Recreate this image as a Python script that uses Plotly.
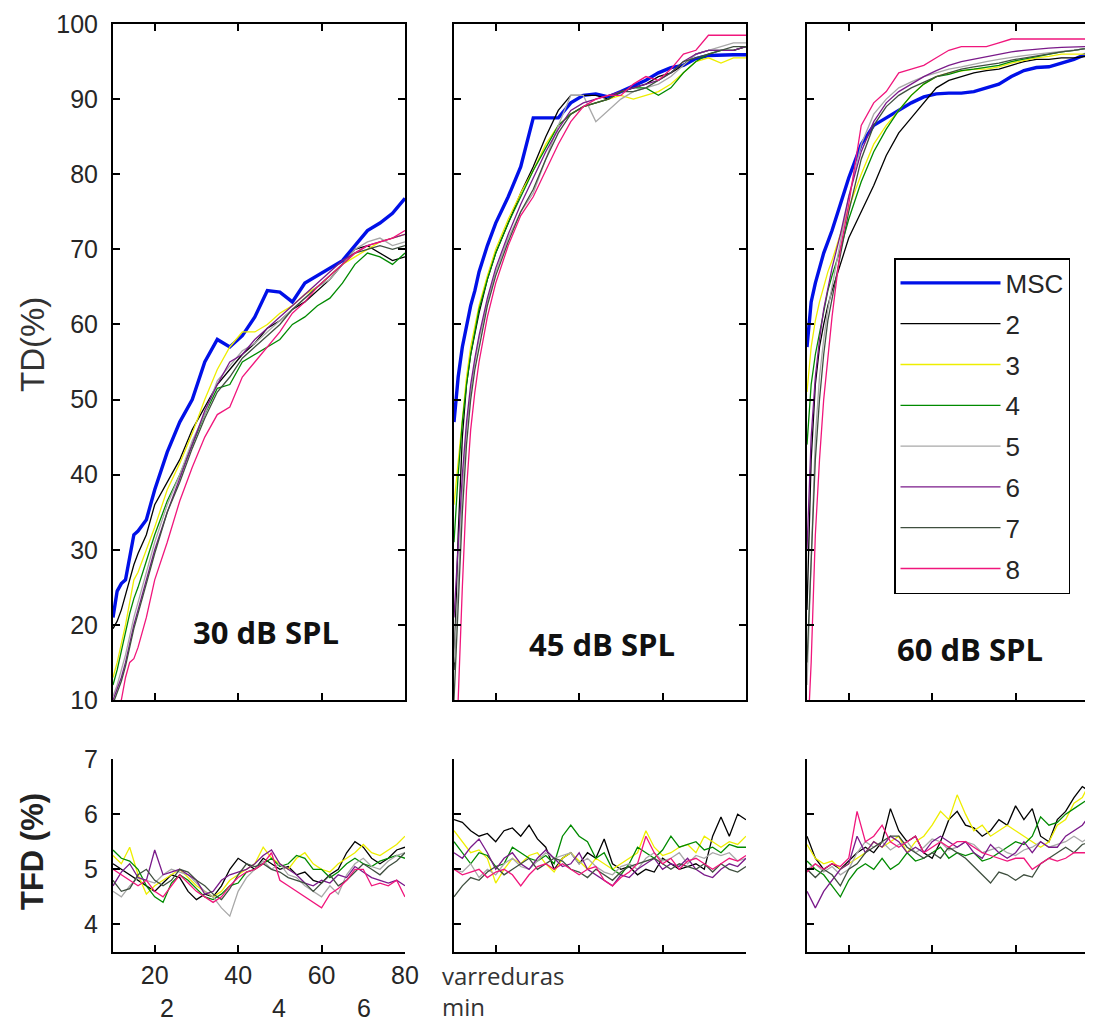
import plotly.graph_objects as go

# ---------------- data ----------------
series_names = ["MSC", "2", "3", "4", "5", "6", "7", "8"]

sweeps_td = [10, 11, 12, 13, 14, 15, 16, 18, 20, 23, 26, 29, 32, 35, 38, 41, 44, 47, 50,
             53, 56, 59, 62, 65, 68, 71, 74, 77, 80]
sweeps_tfd = [10, 12, 14, 16, 18, 20, 22, 24, 26, 28, 30, 32, 34, 36, 38, 40, 42, 44,
              46, 48, 50, 52, 54, 56, 58, 60, 62, 64, 66, 68, 70, 72, 74, 76, 78, 80]

# TD(%) 30 dB SPL
td30_msc = [21, 24.5, 25.5, 26, 29, 32, 32.5, 34, 38, 43, 47, 50, 55, 58, 57, 58.5, 61, 64.5, 64.3, 63, 65.5, 66.5, 67.5, 68.5, 70.5, 72.5, 73.5, 74.8, 76.8]
td30_2 = [19.5, 20.5, 22, 24, 26, 28, 29.5, 32, 36, 39, 42, 46, 49, 52, 54, 56, 57.5, 59.5, 60.5, 62, 63, 64.5, 66, 68, 70, 70.5, 69.5, 68.5, 69]
td30_3 = [13, 15, 17.5, 20, 23, 26, 27, 30, 33, 38, 41.5, 45.5, 50, 54, 57, 59, 59, 60, 61.5, 62.5, 64, 65, 66.5, 68, 69, 70, 71, 71.5, 72]
td30_4 = [12, 14, 16.5, 19, 21.5, 23.5, 25, 28.5, 32, 36.5, 40, 44, 48, 51.5, 52, 55, 56, 57, 58, 60, 61, 62.5, 63.5, 65.5, 68, 69.5, 69, 68, 69.5]
td30_5 = [10.5, 12, 14, 16, 18.5, 21, 23, 27, 31, 36, 40, 44.5, 48, 52.5, 54.5, 56.5, 57.5, 59, 60.5, 62, 63.5, 65, 66, 68, 70, 71, 71.5, 70.5, 71]
td30_6 = [10, 11.5, 13, 15, 17.5, 20, 22, 26, 30, 35, 39.5, 44, 48.5, 52, 55, 56, 58, 59.5, 61, 62.5, 64, 65.5, 67, 68.5, 69.5, 70.5, 71, 71.5, 72]
td30_7 = [9.5, 11, 12.5, 14.5, 17, 19.5, 21.5, 25.5, 29.5, 35, 39, 43.5, 47.5, 51, 53, 55.5, 57, 58.5, 60, 62, 63.5, 65, 66.5, 68, 69.5, 70, 70.5, 70, 70.5]
td30_8 = [7, 8, 10, 13, 15, 15.5, 17, 21, 26, 31, 36.5, 41, 45, 48, 49, 53, 55, 57, 59, 61.5, 63, 65, 66.5, 68, 69.5, 70.5, 71, 71.5, 72.5]

# TD(%) 45 dB SPL
td45_msc = [47, 53, 57, 60, 62.5, 64.5, 67, 70.5, 73.5, 77, 81, 87.5, 87.5, 87.5, 89.5, 90.5, 90.7, 90.3, 91, 91.8, 92.5, 93.5, 94.2, 94.5, 95.4, 95.8, 95.9, 95.9, 95.9]
td45_2 = [14, 32, 45, 52, 56, 59, 61.5, 66, 69.5, 73.5, 77.5, 81, 85, 88.5, 90.5, 90.5, 90.5, 90, 91, 91.5, 92, 93, 93.5, 94.5, 96, 96.5, 96.5, 96.5, 97]
td45_3 = [36, 42, 48, 53, 57, 60, 62.5, 66.5, 70, 74, 77.5, 80.5, 84, 86.5, 88, 89, 89.5, 90, 90.5, 90, 90.5, 91, 92, 93.5, 95, 95.5, 94.8, 95.5, 95.5]
td45_4 = [31, 40, 47, 52, 56, 59, 62, 66, 69.5, 73.5, 77, 80.5, 83.5, 86.5, 88, 89, 89.5, 90, 91, 91.5, 91.5, 90.5, 91.5, 93.5, 95, 96, 96.5, 96.5, 97]
td45_5 = [15, 25, 38, 46, 51, 55, 58, 63, 67, 71.5, 75, 77.5, 82, 86.5, 90.5, 90.5, 87, 88.5, 90, 91, 91.5, 92, 93, 94.5, 96, 96.5, 97, 97.5, 97.5]
td45_6 = [21, 30, 40, 47, 52, 55.5, 58.5, 63.5, 67.5, 72, 76, 79.5, 83, 86, 88.5, 89.5, 90, 90.5, 91, 91.5, 92, 92.5, 93.5, 95, 96, 96.5, 96.5, 96.5, 97]
td45_7 = [10, 22, 35, 44, 50, 54, 57, 62.5, 66.5, 71, 75, 78, 82, 85.5, 88, 89, 89.5, 90, 91, 91, 91.5, 92.5, 93.5, 95, 95.5, 96, 96.5, 97, 97]
td45_8 = [5, 10, 25, 38, 46, 51, 55, 61, 65.5, 70.5, 74.5, 77, 80.5, 84, 87, 89, 90, 90.5, 90.5, 92, 93, 92.5, 94, 96, 96.5, 98.5, 98.5, 98.5, 98.5]

# TD(%) 60 dB SPL
td60_msc = [57, 63, 65.5, 67.5, 69.5, 71, 72.5, 76, 79.5, 84, 86.5, 87.5, 88.5, 89.5, 90.3, 90.7, 90.8, 90.8, 91, 91.5, 92, 93, 93.8, 94.2, 94.3, 94.8, 95.3, 96, 96.5]
td60_2 = [22, 42, 52, 57, 60, 62.5, 64.5, 68, 71.5, 75, 78.5, 82.5, 85.5, 87.5, 89.5, 91.5, 92.5, 93, 93.5, 93.8, 94, 94.5, 95, 95.3, 95.3, 95.5, 95.5, 95.7, 96]
td60_3 = [51, 57, 60.5, 63, 65, 67, 68.5, 72, 75.5, 80, 84, 86.5, 88.5, 90.5, 92, 93, 93.5, 93.8, 94, 94, 94.3, 94.8, 95.2, 95.5, 95.7, 96, 96, 96, 96]
td60_4 = [44, 52, 56, 59, 62, 64.5, 66.5, 70, 74, 79, 83, 86, 88.5, 90.5, 92, 93, 93.3, 93.8, 94, 94.2, 94.5, 95, 95.3, 95.7, 96, 96.3, 96.5, 96.8, 97]
td60_5 = [12, 30, 45, 53, 58, 62, 65, 71, 77, 84, 88, 90, 91.5, 92.3, 93, 93.5, 94, 94.3, 94.7, 95, 95.3, 95.6, 95.8, 96, 96.2, 96.4, 96.5, 96.7, 96.8]
td60_6 = [30, 45, 53, 58, 62, 65, 67.5, 72, 77, 83, 87, 89.5, 91, 92, 93, 93.8, 94.5, 95, 95.3, 95.6, 96, 96.3, 96.5, 96.6, 96.8, 96.9, 97, 97, 97]
td60_7 = [15, 28, 42, 50, 56, 60.5, 63.5, 69.5, 75, 82, 86.5, 89, 90.5, 91.5, 92.3, 93, 93.5, 94, 94.3, 94.5, 94.8, 95.2, 95.5, 95.8, 96, 96.3, 96.5, 96.7, 97]
td60_8 = [3, 15, 32, 42, 50, 56, 61, 70, 76, 86.5, 89.5, 91, 93.5, 94, 94.5, 95.5, 96.5, 97, 97, 97, 97.5, 98, 98, 98, 98, 98, 98, 98, 98]

# TFD(%) 30 dB SPL
tfd30_2 = [5.1, 5.0, 4.9, 4.8, 4.7, 4.6, 4.75, 4.9, 4.85, 4.6, 4.45, 4.55, 4.5, 4.7, 5.0, 5.2, 5.1, 5.0, 5.2, 5.1, 5.0, 5.05, 4.9, 4.95, 4.8, 4.75, 4.9, 5.0, 5.3, 5.5, 5.4, 5.2, 5.1, 5.2, 5.35, 5.4]
tfd30_3 = [5.25, 5.1, 5.4, 4.9, 4.55, 4.7, 4.8, 4.9, 5.0, 4.85, 4.7, 4.6, 4.5, 4.6, 4.8, 4.9, 5.0, 5.1, 5.4, 5.2, 5.1, 5.0, 5.2, 5.3, 5.1, 5.0, 4.95, 5.1, 5.2, 5.3, 5.45, 5.3, 5.25, 5.35, 5.45, 5.6]
tfd30_4 = [5.35, 5.2, 5.15, 5.0, 4.7, 4.5, 4.4, 4.75, 4.9, 4.8, 4.65, 4.5, 4.45, 4.55, 4.7, 4.75, 4.95, 5.0, 5.1, 5.2, 5.05, 5.1, 5.25, 5.2, 5.0, 5.0, 4.85, 4.95, 5.1, 5.2, 5.1, 5.05, 5.15, 5.2, 5.25, 5.2]
tfd30_5 = [4.6, 4.5, 4.7, 4.85, 4.8, 4.75, 4.9, 5.0, 4.95, 4.9, 4.75, 4.6, 4.5, 4.3, 4.15, 4.6, 4.85, 5.0, 5.15, 5.0, 5.1, 4.9, 4.85, 4.7, 4.6, 4.5, 4.7, 4.55, 4.9, 5.1, 5.2, 5.05, 5.0, 5.15, 5.25, 5.3]
tfd30_6 = [4.7, 4.95, 5.1, 4.85, 4.8, 5.35, 4.9, 4.95, 5.0, 4.9, 4.8, 4.55, 4.6, 4.8, 4.9, 4.95, 5.0, 5.1, 5.25, 5.35, 5.1, 5.0, 4.9, 4.75, 4.7, 4.8, 4.75, 4.9, 4.85, 5.05, 4.95, 4.85, 4.8, 4.75, 4.8, 4.7]
tfd30_7 = [4.8, 4.6, 4.65, 4.9, 5.0, 4.8, 4.7, 4.8, 5.0, 4.95, 4.8, 4.7, 4.55, 4.45, 4.65, 4.9, 5.1, 5.05, 5.1, 5.0, 4.95, 4.85, 4.8, 4.75, 4.6, 4.75, 4.9, 4.7, 4.8, 4.95, 5.1, 5.0, 4.9, 5.05, 5.15, 5.3]
tfd30_8 = [5.0, 4.9, 4.8, 4.7, 4.8, 4.6, 4.5, 4.7, 4.9, 4.75, 4.6, 4.5, 4.4, 4.5, 4.7, 4.85, 4.95, 5.0, 5.1, 5.3, 4.8, 4.7, 4.6, 4.5, 4.4, 4.3, 4.55, 4.65, 4.8, 5.0, 5.0, 4.7, 4.75, 4.7, 4.8, 4.5]

# TFD(%) 45 dB SPL
tfd45_2 = [5.9, 5.85, 5.7, 5.6, 5.65, 5.5, 5.7, 5.75, 5.6, 5.8, 5.55, 5.4, 5.0, 5.2, 5.3, 5.1, 5.3, 5.2, 5.55, 5.1, 5.0, 5.05, 4.9, 5.0, 4.95, 5.2, 5.1, 5.0, 5.05, 5.1, 5.0, 5.6, 5.95, 5.6, 6.0, 5.9]
tfd45_3 = [5.7, 5.5, 5.3, 5.35, 5.2, 4.75, 5.0, 5.2, 5.1, 5.25, 5.3, 5.1, 4.95, 5.2, 5.3, 5.15, 5.0, 5.2, 5.1, 5.0, 5.1, 5.2, 5.3, 5.7, 5.4, 5.25, 5.3, 5.4, 5.45, 5.3, 5.6, 5.5, 5.4, 5.5, 5.45, 5.6]
tfd45_4 = [5.5, 5.3, 5.1, 5.3, 5.25, 5.05, 5.1, 5.4, 5.3, 5.2, 5.15, 5.25, 5.1, 5.6, 5.8, 5.6, 5.5, 5.2, 5.3, 5.0, 4.9, 5.1, 5.4, 5.3, 5.2, 5.35, 5.6, 5.4, 5.45, 5.5, 5.35, 5.4, 5.3, 5.45, 5.4, 5.4]
tfd45_5 = [5.0, 4.95, 5.1, 4.85, 5.0, 4.9, 5.1, 5.2, 5.05, 5.0, 5.15, 5.3, 5.2, 5.25, 5.3, 5.1, 5.2, 5.05, 4.95, 4.9, 5.05, 5.1, 5.0, 5.2, 5.3, 5.15, 5.2, 5.3, 5.1, 5.25, 5.2, 5.3, 5.25, 5.3, 5.15, 5.2]
tfd45_6 = [5.3, 5.2, 5.4, 5.55, 5.3, 5.0, 5.2, 5.3, 5.1, 5.0, 5.2, 5.35, 5.2, 5.05, 5.1, 5.3, 5.0, 4.9, 4.8, 4.7, 4.9, 4.85, 5.0, 5.1, 5.2, 5.0, 5.1, 5.05, 5.2, 5.0, 4.9, 4.85, 5.0, 5.1, 5.05, 5.2]
tfd45_7 = [4.5, 4.7, 4.85, 4.8, 4.95, 5.05, 4.9, 5.0, 5.1, 5.2, 5.0, 5.1, 5.2, 5.15, 5.0, 4.95, 4.85, 5.0, 4.9, 4.8, 4.95, 5.05, 5.1, 5.15, 5.2, 5.1, 5.0, 5.1, 5.05, 5.0, 5.1, 4.95, 5.1, 5.0, 4.95, 5.05]
tfd45_8 = [5.0, 4.9, 4.95, 5.0, 4.85, 4.95, 5.0, 4.9, 4.7, 4.9, 5.05, 5.1, 5.0, 5.1, 5.0, 4.9, 5.0, 5.05, 4.8, 4.7, 4.85, 4.95, 5.1, 5.6, 5.3, 5.1, 5.2, 5.0, 5.15, 5.2, 5.1, 5.0, 5.1, 5.2, 5.15, 5.25]

# TFD(%) 60 dB SPL
tfd60_2 = [5.6, 5.2, 5.0, 5.1, 5.0, 5.15, 5.3, 5.4, 5.3, 5.5, 6.1, 5.7, 5.5, 5.6, 5.3, 5.2, 5.5, 5.9, 6.05, 5.8, 5.75, 5.6, 5.7, 5.9, 5.8, 6.15, 5.9, 6.1, 5.6, 5.5, 5.9, 6.05, 6.3, 6.5, 6.4, 6.5]
tfd60_3 = [5.45, 5.2, 5.1, 5.15, 5.0, 5.1, 5.2, 5.3, 5.5, 5.4, 5.5, 5.6, 5.3, 5.5, 5.6, 5.8, 6.05, 5.9, 6.35, 6.0, 5.7, 5.8, 5.6, 5.7, 5.8, 5.7, 5.6, 5.5, 5.4, 5.5, 5.8, 5.9, 6.2, 6.3, 6.6, 6.7]
tfd60_4 = [5.15, 5.0, 4.9, 4.7, 4.5, 4.8, 5.0, 5.1, 5.0, 5.2, 5.0, 5.1, 5.3, 5.15, 5.2, 5.3, 5.4, 5.2, 5.3, 5.25, 5.3, 5.15, 5.2, 5.3, 5.4, 5.5, 5.45, 5.6, 5.95, 5.8, 5.85, 6.0, 6.1, 6.2, 6.3, 6.4]
tfd60_5 = [5.0, 5.1, 4.95, 5.05, 4.9, 5.0, 5.3, 5.5, 5.4, 5.5, 5.35, 5.45, 5.5, 5.3, 5.4, 5.55, 5.5, 5.35, 5.4, 5.5, 5.45, 5.3, 5.35, 5.4, 5.3, 5.25, 5.35, 5.4, 5.5, 5.4, 5.45, 5.5, 5.6, 5.5, 5.6, 5.55]
tfd60_6 = [4.6, 4.3, 4.6, 4.8, 5.0, 5.1, 5.6, 5.3, 5.5, 5.4, 5.6, 5.5, 5.3, 5.4, 5.3, 5.5, 5.6, 5.5, 5.4, 5.5, 5.3, 5.2, 5.45, 5.3, 5.2, 5.3, 5.5, 5.3, 5.5, 5.4, 5.4, 5.6, 5.7, 5.8, 6.0, 6.1]
tfd60_7 = [5.0, 4.85, 5.0, 4.9, 4.7, 5.0, 5.1, 5.3, 5.4, 5.5, 5.6, 5.6, 5.4, 5.3, 5.2, 5.3, 5.2, 5.4, 5.3, 5.2, 5.05, 4.9, 4.75, 4.95, 4.9, 4.8, 4.9, 4.86, 5.1, 5.2, 5.3, 5.4, 5.3, 5.45, 5.5, 5.6]
tfd60_8 = [4.95, 5.1, 5.0, 5.1, 5.05, 5.2, 6.05, 5.5, 5.6, 5.8, 5.5, 5.4, 5.5, 5.6, 5.3, 5.4, 5.5, 5.4, 5.5, 5.5, 5.4, 5.3, 5.25, 5.2, 5.15, 5.2, 5.2, 5.0, 5.1, 5.2, 5.15, 5.2, 5.3, 5.3, 5.3, 5.35]

panel_labels = ["30 dB SPL", "45 dB SPL", "60 dB SPL"]
td_ticks = [10, 20, 30, 40, 50, 60, 70, 80, 90, 100]
tfd_ticks = [4, 5, 6, 7]
sweep_ticks = [20, 40, 60, 80]
minute_labels = ["2", "4", "6"]
minute_pos = [22.9, 49.8, 70.2]

# ---------------- style / layout ----------------
# the page places the figure 8px from the top-left corner of the 1093x1024 window
OFF = 8
FW, FH = 1093 - OFF, 1024 - OFF
def fx(p):
    return (p - OFF) / FW
def fy(p):
    return 1 - (p - OFF) / FH

colors = ["#0010E8", "#000000", "#EEEE00", "#008A00", "#A8A8A8", "#7A1A8A", "#3F4F3F", "#F0167C"]
widths = [3.4, 1.3, 1.3, 1.3, 1.3, 1.3, 1.3, 1.3]

td_sets = [
    [td30_msc, td30_2, td30_3, td30_4, td30_5, td30_6, td30_7, td30_8],
    [td45_msc, td45_2, td45_3, td45_4, td45_5, td45_6, td45_7, td45_8],
    [td60_msc, td60_2, td60_3, td60_4, td60_5, td60_6, td60_7, td60_8],
]
tfd_sets = [
    [None, tfd30_2, tfd30_3, tfd30_4, tfd30_5, tfd30_6, tfd30_7, tfd30_8],
    [None, tfd45_2, tfd45_3, tfd45_4, tfd45_5, tfd45_6, tfd45_7, tfd45_8],
    [None, tfd60_2, tfd60_3, tfd60_4, tfd60_5, tfd60_6, tfd60_7, tfd60_8],
]

fig = go.Figure()
for c in range(3):
    for s in range(8):
        fig.add_trace(go.Scatter(
            x=sweeps_td, y=td_sets[c][s], mode="lines", name=series_names[s],
            line=dict(color=colors[s], width=widths[s]),
            xaxis="x" if c == 0 else "x%d" % (c + 1),
            yaxis="y" if c == 0 else "y%d" % (c + 1),
            legendgroup=series_names[s], showlegend=(c == 0)))
for c in range(3):
    for s in range(1, 8):
        fig.add_trace(go.Scatter(
            x=sweeps_tfd, y=tfd_sets[c][s], mode="lines", name=series_names[s],
            line=dict(color=colors[s], width=widths[s]),
            xaxis="x%d" % (c + 4), yaxis="y%d" % (c + 4),
            legendgroup=series_names[s], showlegend=False))

tickfont = dict(family="Liberation Sans, Arial, sans-serif", size=25, color="#262626")
base = dict(showgrid=False, zeroline=False, showline=True, linecolor="black", linewidth=2,
            ticks="inside", ticklen=7, tickwidth=1.5, tickcolor="black", tickfont=tickfont,
            automargin=False)

right_px = 1093
col_dom = [[fx(113), fx(405)], [fx(454), fx(746)], [fx(807), fx(right_px)]]
col_end = [80, 80, 10 + 70 * (right_px - 807) / 292.0]
top_dom = [fy(700), fy(24)]
bot_dom = [fy(952), fy(759)]

layout = dict(width=FW, height=FH, margin=dict(l=0, r=0, t=0, b=0, pad=0, autoexpand=False),
              paper_bgcolor="white", plot_bgcolor="white", showlegend=True)
for c in range(3):
    kx = "xaxis" if c == 0 else "xaxis%d" % (c + 1)
    ky = "yaxis" if c == 0 else "yaxis%d" % (c + 1)
    ya = "y" if c == 0 else "y%d" % (c + 1)
    xa = "x" if c == 0 else "x%d" % (c + 1)
    layout[kx] = dict(base, domain=col_dom[c], range=[10, col_end[c]], tickvals=sweep_ticks,
                      showticklabels=False, mirror="ticks", anchor=ya)
    layout[ky] = dict(base, domain=top_dom, range=[10, 100], tickvals=td_ticks,
                      showticklabels=(c == 0), mirror=("ticks" if c < 2 else False),
                      anchor=xa, ticklabelstandoff=8)
    layout["xaxis%d" % (c + 4)] = dict(base, domain=col_dom[c], range=[10, col_end[c]],
                                      tickvals=sweep_ticks, showticklabels=(c == 0),
                                      anchor="y%d" % (c + 4), ticklabelstandoff=0)
    layout["yaxis%d" % (c + 4)] = dict(base, domain=bot_dom, range=[3.5, 7], tickvals=tfd_ticks,
                                      showticklabels=(c == 0), anchor="x%d" % (c + 4),
                                      ticklabelstandoff=8)

layout["legend"] = dict(x=fx(894), y=fy(258), xanchor="left", yanchor="top",
                        bordercolor="black", borderwidth=1.5, bgcolor="white",
                        font=dict(family="Liberation Sans, Arial, sans-serif", size=26, color="#262626"),
                        itemwidth=100, tracegroupgap=4, traceorder="grouped")

def paper_ann(text, px, py, size, family, color="#262626", xanchor="center", angle=0):
    return dict(text=text, x=fx(px), y=fy(py), xref="paper", yref="paper", showarrow=False,
                xanchor=xanchor, yanchor="middle", textangle=angle, align="left",
                font=dict(family=family, size=size, color=color))

ann = []
lab_pos = [(266, 632), (602, 644), (970, 649)]
for i, t in enumerate(panel_labels):
    ann.append(paper_ann("<b>%s</b>" % t, lab_pos[i][0], lab_pos[i][1], 31,
                         "Open Sans, sans-serif", "#111111"))
ann.append(paper_ann("TD(%)", 32, 345, 33, "Liberation Sans, Arial, sans-serif", "#333333", angle=-90))
ann.append(paper_ann("<b>TFD (%)</b>", 32, 852, 31, "Liberation Sans, Arial, sans-serif", "#222222", angle=-90))
ann.append(paper_ann("varreduras<br>min", 440, 991, 24, "Open Sans, sans-serif", "#333333", xanchor="left"))
for t, p in zip(minute_labels, minute_pos):
    ann.append(dict(text=t, x=p, y=fy(1008), xref="x4", yref="paper", showarrow=False,
                    xanchor="center", yanchor="middle", font=tickfont))
layout["annotations"] = ann

fig.update_layout(**layout)
fig.write_html("out.html")
